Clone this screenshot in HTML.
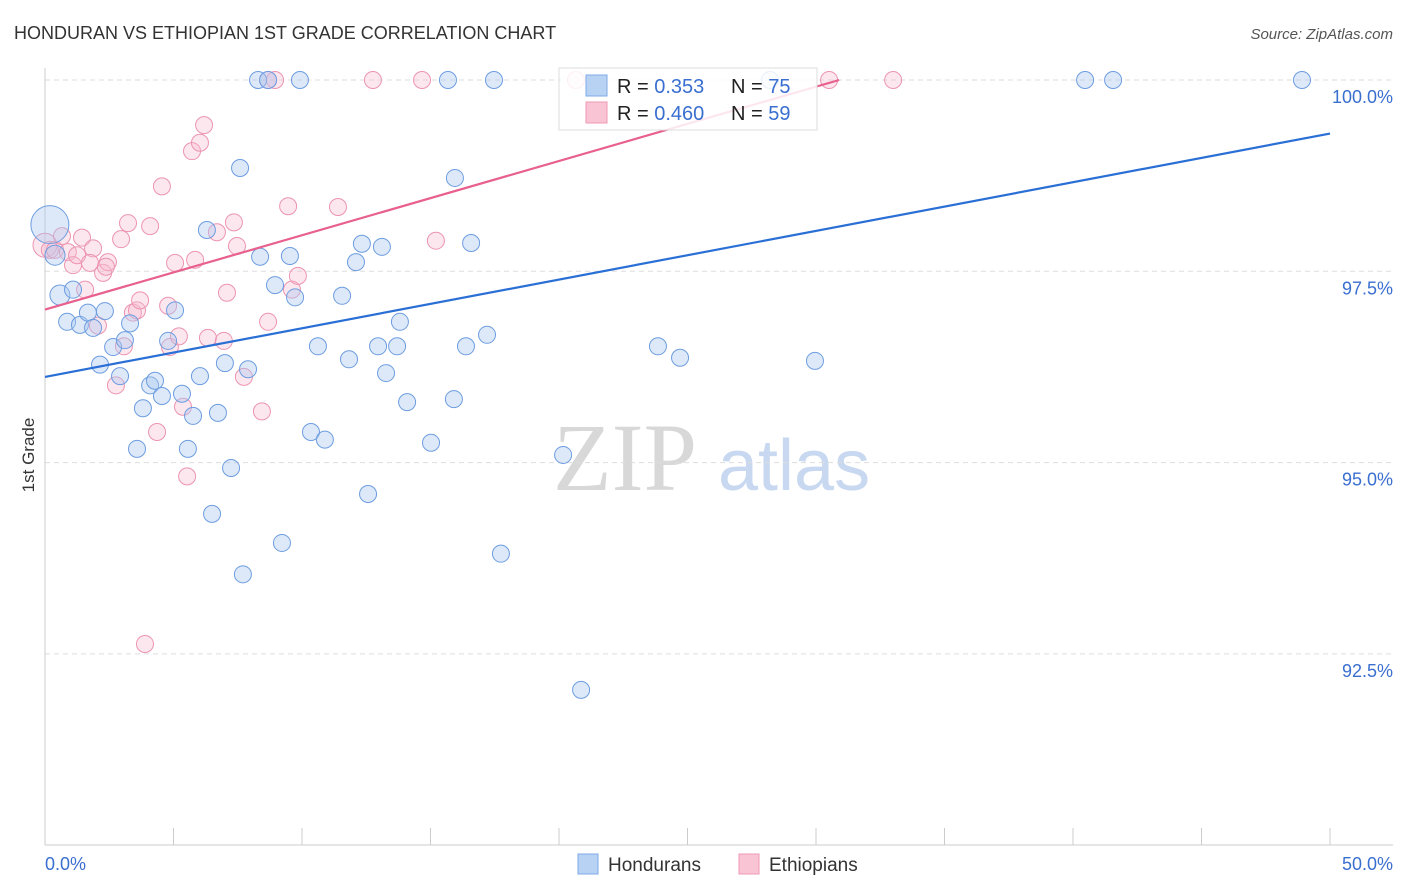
<!DOCTYPE html>
<html><head><meta charset="utf-8"><style>
body{margin:0;background:#fff;font-family:"Liberation Sans",sans-serif}
svg{display:block}
</style></head><body>
<svg id="chart" width="1406" height="892" xmlns="http://www.w3.org/2000/svg">
<text x="14" y="39" font-size="18" fill="#333">HONDURAN VS ETHIOPIAN 1ST GRADE CORRELATION CHART</text>
<text x="1393" y="39" font-size="15" fill="#555" font-style="italic" text-anchor="end">Source: ZipAtlas.com</text>
<text x="34" y="455" font-size="17" fill="#333" transform="rotate(-90 34 455)" text-anchor="middle">1st Grade</text>
<g>
<text x="553" y="490" font-family="Liberation Serif,serif" font-size="96" fill="#d8d8d8">ZIP</text>
<text x="718" y="490" font-size="72" fill="#c8d8f0">atlas</text>
</g>
<g id="grid"></g><g id="marks"></g>
<g>
<rect x="559" y="68" width="258" height="62" fill="#fff" fill-opacity="0.85" stroke="#ddd"/>
<rect x="586" y="75" width="21" height="21" fill="#b8d2f4" stroke="#7eaae6"/>
<rect x="586" y="102" width="21" height="21" fill="#f9c4d4" stroke="#ee9ab4"/>
<text x="617" y="93" font-size="20" fill="#222">R = <tspan fill="#3a6fd0">0.353</tspan></text>
<text x="731" y="93" font-size="20" fill="#222">N = <tspan fill="#3a6fd0">75</tspan></text>
<text x="617" y="120" font-size="20" fill="#222">R = <tspan fill="#3a6fd0">0.460</tspan></text>
<text x="731" y="120" font-size="20" fill="#222">N = <tspan fill="#3a6fd0">59</tspan></text>
</g>
<g>
<rect x="578" y="854" width="20" height="20" fill="#b8d2f4" stroke="#7eaae6"/>
<text x="608" y="871" font-size="19" fill="#333">Hondurans</text>
<rect x="739" y="854" width="20" height="20" fill="#f9c4d4" stroke="#ee9ab4"/>
<text x="769" y="871" font-size="19" fill="#333">Ethiopians</text>
</g>
</svg>
<script>
const blueX=[0.19,0.39,0.58,1.09,0.86,1.36,1.67,1.87,2.33,3.31,2.14,2.65,2.92,3.11,4.09,4.28,4.55,3.81,3.58,4.79,5.06,5.33,5.56,5.76,6.03,6.30,6.50,6.73,7.00,7.24,7.59,7.70,7.90,8.29,8.68,8.37,8.95,9.22,9.53,9.73,9.92,10.35,10.62,10.89,11.56,11.83,12.10,12.33,12.57,12.96,13.11,13.27,13.70,13.81,14.09,15.02,15.68,15.91,15.95,16.38,16.58,17.20,17.47,17.74,20.16,20.86,23.85,24.71,28.21,29.96,40.47,41.56,48.91];
const blueY=[98.11,97.71,97.19,97.26,96.84,96.80,96.96,96.76,96.98,96.82,96.28,96.51,96.13,96.60,96.01,96.07,95.87,95.71,95.18,96.59,96.99,95.90,95.18,95.61,96.13,98.04,94.33,95.65,96.30,94.93,98.85,93.54,96.22,100,100,97.69,97.32,93.95,97.70,97.16,100,95.40,96.52,95.30,97.18,96.35,97.62,97.86,94.59,96.52,97.82,96.17,96.52,96.84,95.79,95.26,100,95.83,98.72,96.52,97.87,96.67,100,93.81,95.10,92.03,96.52,96.37,100,96.33,100,100,100];
const pinkX=[0,0.19,0.39,0.66,0.89,1.09,1.25,1.44,1.56,1.87,1.75,2.06,2.26,2.45,2.37,2.76,2.96,3.07,3.23,3.42,3.58,3.70,3.89,4.09,4.36,4.55,4.79,4.86,5.06,5.21,5.37,5.53,5.72,5.84,6.03,6.19,6.34,6.69,6.96,7.08,7.35,7.47,7.74,8.44,8.68,8.95,9.46,9.61,9.84,11.40,12.76,14.67,15.21,20.66,30.51,33.00,8.68];
const pinkY=[97.84,97.78,97.78,97.96,97.75,97.58,97.71,97.94,97.26,97.80,97.61,96.79,97.48,97.62,97.56,96.01,97.92,96.52,98.13,96.96,96.99,97.12,92.63,98.09,95.40,98.61,97.05,96.51,97.61,96.65,95.73,94.82,99.07,97.65,99.18,99.41,96.63,98.01,96.59,97.22,98.14,97.83,96.12,95.67,96.84,100,98.35,97.26,97.44,98.34,100,100,97.90,100,100,100,100];
const blueLine=[96.12,99.30];
const pinkLine=[97.0,100.0];
const pinkLineEnd=30.9;
const yTicks=[100,97.5,95,92.5];
const yTickLabels=["100.0%","97.5%","95.0%","92.5%"];
const xTicks=[0,5,10,15,20,25,30,35,40,45,50];

const NS="http://www.w3.org/2000/svg";
const sx=v=>45+v*25.7;
const sy=v=>80+(100-v)*76.52;
function mk(tag,attrs,parent){const e=document.createElementNS(NS,tag);for(const k in attrs)e.setAttribute(k,attrs[k]);parent.appendChild(e);return e;}
const grid=document.getElementById('grid'),marks=document.getElementById('marks');
yTicks.forEach((t,i)=>{
 const l=mk('line',{x1:45,x2:1393,y1:sy(t),y2:sy(t),stroke:'#ddd','stroke-dasharray':'5,4'},grid);
 
 
 const tx=mk('text',{x:1393,y:sy(t)+23,'font-size':18,fill:'#3a6fd0','text-anchor':'end'},grid);
 tx.textContent=yTickLabels[i];
 
 
});
const ax=mk('line',{x1:45,x2:45,y1:68,y2:845,stroke:'#ccc'},grid);


const bx=mk('line',{x1:45,x2:1393,y1:845,y2:845,stroke:'#ccc'},grid);


xTicks.forEach(t=>{
 const l=mk('line',{x1:sx(t),x2:sx(t),y1:828,y2:845,stroke:'#ccc'},grid);
 
 
});
[[0,"0.0%","start"],[50,"50.0%","end"]].forEach(([v,s,a])=>{
 const tx=mk('text',{x:v===0?45:1393,y:870,'font-size':18,fill:'#3a6fd0','text-anchor':a},grid);
 tx.textContent=s;
 
 
});
pinkX.forEach((x,i)=>{
 const c=mk('circle',{cx:sx(x),cy:sy(pinkY[i]),r:i===0?12:8.5,fill:'#f7b9cd','fill-opacity':0.35,stroke:'#ec94b1','stroke-width':1},marks);
 
 
});
blueX.forEach((x,i)=>{
 const c=mk('circle',{cx:sx(x),cy:sy(blueY[i]),r:i===0?19:(i<3?10:8.5),fill:'#a9c8f0','fill-opacity':0.4,stroke:'#6d9de0','stroke-width':1},marks);
 
 
});
const bl=mk('line',{x1:sx(0),y1:sy(blueLine[0]),x2:sx(50),y2:sy(blueLine[1]),stroke:'#2a6fd6','stroke-width':2.2},marks);


const pl=mk('line',{x1:sx(0),y1:sy(pinkLine[0]),x2:sx(pinkLineEnd),y2:sy(pinkLine[1]),stroke:'#e8608e','stroke-width':2.2},marks);


</script>
</body></html>
